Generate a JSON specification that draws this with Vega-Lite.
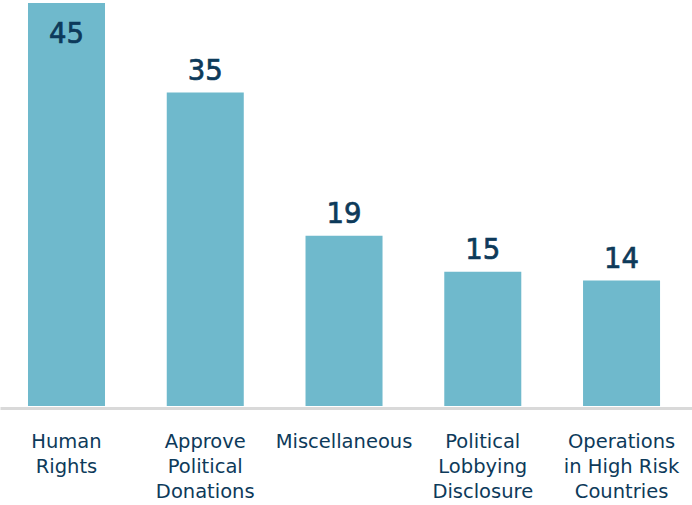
{
  "$schema": "https://vega.github.io/schema/vega-lite/v6.json",
  "width": 692,
  "height": 403,
  "autosize": {"type": "none"},
  "padding": {"top": 3, "left": 0, "right": 0, "bottom": 99},
  "background": "white",
  "config": {"view": {"stroke": null}, "font": "DejaVu Sans"},
  "data": {
    "values": [
      {"category": "Human|Rights", "value": 45},
      {"category": "Approve|Political|Donations", "value": 35},
      {"category": "Miscellaneous", "value": 19},
      {"category": "Political|Lobbying|Disclosure", "value": 15},
      {"category": "Operations|in High Risk|Countries", "value": 14}
    ]
  },
  "encoding": {
    "x": {
      "field": "category",
      "type": "nominal",
      "sort": null,
      "scale": {"paddingInner": 0.445, "paddingOuter": 0.216, "align": 0.467},
      "axis": {
        "title": null,
        "labelAngle": 0,
        "labelExpr": "split(datum.label, '|')",
        "labelFont": "DejaVu Sans",
        "labelFontWeight": 500,
        "labelFontSize": 19.5,
        "labelColor": "#0d3a5a",
        "labelLineHeight": 25,
        "labelPadding": 24,
        "labelBaseline": "top",
        "ticks": false,
        "domainColor": "#d9d9d9",
        "domainWidth": 3,
        "offset": 2
      }
    },
    "y": {
      "field": "value",
      "type": "quantitative",
      "scale": {"domain": [0, 45], "nice": false},
      "axis": null
    }
  },
  "layer": [
    {"mark": {"type": "bar", "color": "#6fb9cc"}},
    {
      "transform": [{"filter": "datum.value < 40"}],
      "mark": {"type": "text", "baseline": "alphabetic", "dy": -13, "fontSize": 27.5, "color": "#0d3a5a", "stroke": "#0d3a5a", "strokeWidth": 0.7, "font": "DejaVu Sans"},
      "encoding": {"text": {"field": "value", "type": "quantitative"}}
    },
    {
      "transform": [{"filter": "datum.value >= 40"}],
      "mark": {"type": "text", "baseline": "alphabetic", "dy": 40, "fontSize": 27.5, "color": "#0d3a5a", "stroke": "#0d3a5a", "strokeWidth": 0.7, "font": "DejaVu Sans"},
      "encoding": {"text": {"field": "value", "type": "quantitative"}}
    }
  ]
}
